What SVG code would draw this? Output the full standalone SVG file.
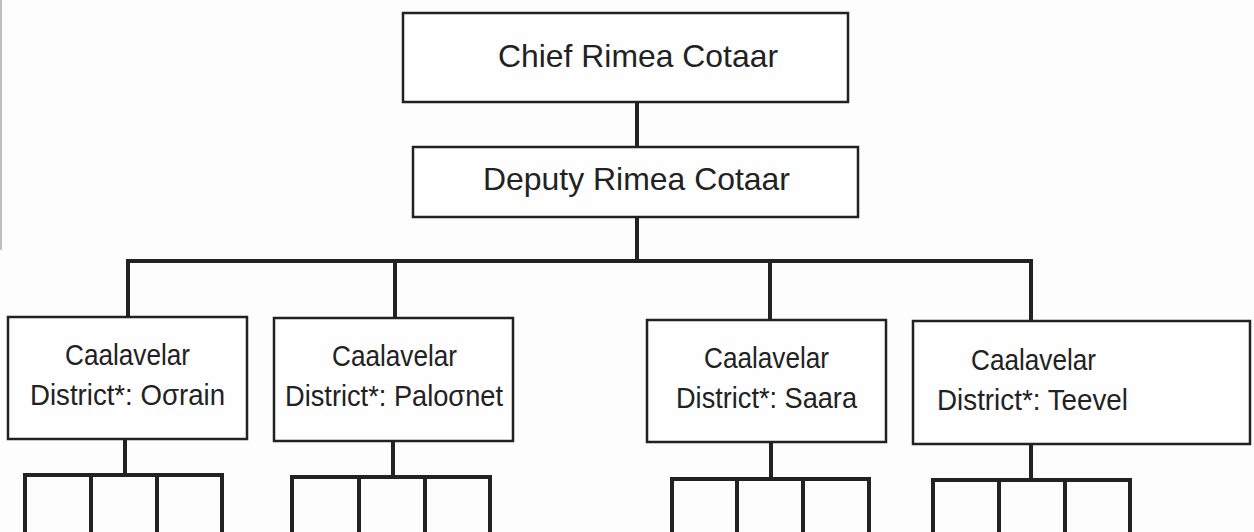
<svg xmlns="http://www.w3.org/2000/svg" width="1254" height="532" viewBox="0 0 1254 532">
<style>
.box{fill:#fefefe;stroke:#222;stroke-width:2.5}
.t{font-family:"Liberation Sans","Noto Sans",sans-serif;fill:#222;text-anchor:middle}
.big{font-size:32px}
.mid{font-size:29px}
.c{stroke:#222;stroke-width:4;fill:none;stroke-linecap:square}
</style>
<rect x="0" y="0" width="1254" height="532" fill="#fdfdfd"/>
<line x1="1" y1="0" x2="1" y2="250" stroke="#aaa" stroke-width="1.5"/>
<g id="connectors">
<path class="c" d="M637 102V146M637 218V261M128 261H1031M128 261V317M395 261V318M770 261V320M1031 261V321"/>
<path class="c" d="M125 440V475M25 475H222M25 475V532M91 475V532M157 475V532M222 475V532"/>
<path class="c" d="M393 442V477M292 477H490M292 477V532M359 477V532M425 477V532M490 477V532"/>
<path class="c" d="M771 443V479M672 479H869M672 479V532M737 479V532M803 479V532M869 479V532"/>
<path class="c" d="M1031 445V480M933 480H1130M933 480V532M999 480V532M1065 480V532M1130 480V532"/>
</g>
<g id="chief">
<rect class="box" x="403" y="13" width="445" height="89"/>
<text class="t big" x="638" y="67" textLength="280" lengthAdjust="spacingAndGlyphs">Chief Rimea Cotaar</text>
</g>
<g id="deputy">
<rect class="box" x="413" y="147" width="445" height="70"/>
<text class="t big" x="636.5" y="190" textLength="307" lengthAdjust="spacingAndGlyphs">Deputy Rimea Cotaar</text>
</g>
<g id="district-oorain">
<rect class="box" x="8" y="317" width="239" height="122"/>
<text class="t mid" x="127.5" y="365" textLength="125" lengthAdjust="spacingAndGlyphs">Caalavelar</text>
<text class="t mid" x="127.5" y="405" textLength="195" lengthAdjust="spacingAndGlyphs">District*: Oσrain</text>
</g>
<g id="district-paloonet">
<rect class="box" x="274" y="318" width="239" height="123"/>
<text class="t mid" x="394.5" y="366" textLength="125" lengthAdjust="spacingAndGlyphs">Caalavelar</text>
<text class="t mid" x="394" y="406" textLength="218" lengthAdjust="spacingAndGlyphs">District*: Paloσnet</text>
</g>
<g id="district-saara">
<rect class="box" x="647" y="320" width="239" height="122"/>
<text class="t mid" x="766.5" y="368" textLength="125" lengthAdjust="spacingAndGlyphs">Caalavelar</text>
<text class="t mid" x="766.5" y="408" textLength="181" lengthAdjust="spacingAndGlyphs">District*: Saara</text>
</g>
<g id="district-teevel">
<rect class="box" x="913" y="321" width="337" height="123"/>
<text class="t mid" x="1033.5" y="370" textLength="125" lengthAdjust="spacingAndGlyphs">Caalavelar</text>
<text class="t mid" x="1032.5" y="410" textLength="191" lengthAdjust="spacingAndGlyphs">District*: Teevel</text>
</g>
</svg>
